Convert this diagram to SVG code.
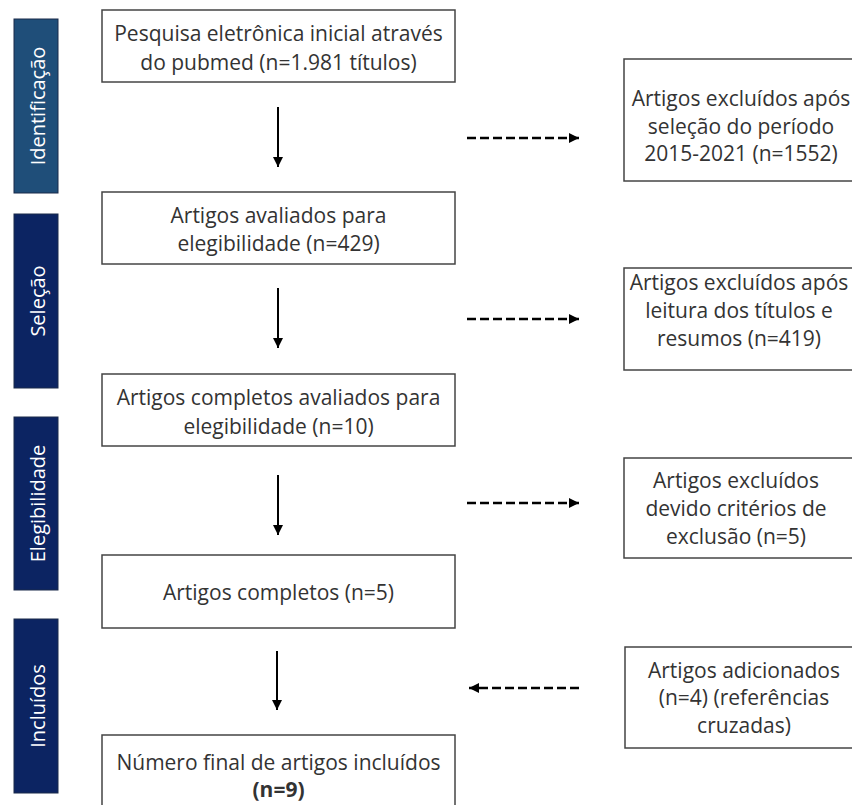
<svg xmlns="http://www.w3.org/2000/svg" width="852" height="805" viewBox="0 0 852 805">
  <defs>
    <marker id="ah" markerUnits="userSpaceOnUse" markerWidth="10" markerHeight="10" viewBox="0 0 10 10" refX="10" refY="5" orient="auto">
      <path d="M0,0 L10,5 L0,10 z" fill="#000"/>
    </marker>
  </defs>
  <style>
    .side { stroke: #1a2a4a; stroke-width: 1; }
    .sidetxt { font-family: "Open Sans", "Noto Sans", sans-serif; font-size: 20px; fill: #ffffff; text-anchor: middle; dominant-baseline: central; }
    .box { fill: #ffffff; stroke: #444444; stroke-width: 1.5; }
    .txt { font-family: "Open Sans", "Noto Sans", sans-serif; font-size: 21px; fill: #333333; text-anchor: middle; dominant-baseline: central; }
    .solid { stroke: #000; stroke-width: 2; fill: none; }
    .dash { stroke: #000; stroke-width: 2.5; fill: none; stroke-dasharray: 9 4; }
  </style>
  <rect width="852" height="805" fill="#ffffff"/>

  <g id="phase-identificacao">
    <rect class="side" x="14" y="19" width="44" height="174" fill="#1f4e79"/>
    <text class="sidetxt" transform="translate(37,106) rotate(-90)">Identificação</text>
  </g>
  <g id="phase-selecao">
    <rect class="side" x="14" y="214" width="44" height="174" fill="#0c2462"/>
    <text class="sidetxt" transform="translate(37,301) rotate(-90)">Seleção</text>
  </g>
  <g id="phase-elegibilidade">
    <rect class="side" x="14" y="417" width="44" height="173" fill="#0c2462"/>
    <text class="sidetxt" transform="translate(37,503.5) rotate(-90)">Elegibilidade</text>
  </g>
  <g id="phase-incluidos">
    <rect class="side" x="14" y="619" width="44" height="174" fill="#0c2462"/>
    <text class="sidetxt" transform="translate(37,706) rotate(-90)">Incluídos</text>
  </g>

  <g id="box-pesquisa">
    <rect class="box" x="102" y="10" width="353" height="72"/>
    <text class="txt" x="278.5" y="33">Pesquisa eletrônica inicial através</text>
    <text class="txt" x="278.5" y="62">do pubmed (n=1.981 títulos)</text>
  </g>
  <g id="box-avaliados">
    <rect class="box" x="102" y="192" width="353" height="72"/>
    <text class="txt" x="278.5" y="215">Artigos avaliados para</text>
    <text class="txt" x="278.5" y="243">elegibilidade (n=429)</text>
  </g>
  <g id="box-completos-avaliados">
    <rect class="box" x="102" y="374" width="353" height="72"/>
    <text class="txt" x="278.5" y="397">Artigos completos avaliados para</text>
    <text class="txt" x="278.5" y="426">elegibilidade (n=10)</text>
  </g>
  <g id="box-completos">
    <rect class="box" x="102" y="555" width="353" height="73"/>
    <text class="txt" x="278.5" y="592">Artigos completos (n=5)</text>
  </g>
  <g id="box-final">
    <rect class="box" x="102" y="735" width="353" height="80"/>
    <text class="txt" x="278.5" y="762">Número final de artigos incluídos</text>
    <text class="txt" x="278.5" y="789" font-weight="bold">(n=9)</text>
  </g>

  <g id="box-excl-periodo">
    <rect class="box" x="624" y="59" width="240" height="122"/>
    <text class="txt" x="741" y="98">Artigos excluídos após</text>
    <text class="txt" x="741" y="126">seleção do período</text>
    <text class="txt" x="741" y="153">2015-2021 (n=1552)</text>
  </g>
  <g id="box-excl-titulos">
    <rect class="box" x="624" y="268" width="240" height="102"/>
    <text class="txt" x="739" y="282">Artigos excluídos após</text>
    <text class="txt" x="739" y="310">leitura dos títulos e</text>
    <text class="txt" x="739" y="338">resumos (n=419)</text>
  </g>
  <g id="box-excl-criterios">
    <rect class="box" x="624" y="458" width="240" height="100"/>
    <text class="txt" x="736" y="480">Artigos excluídos</text>
    <text class="txt" x="736" y="508">devido critérios de</text>
    <text class="txt" x="736" y="536">exclusão (n=5)</text>
  </g>
  <g id="box-adicionados">
    <rect class="box" x="625" y="647" width="240" height="101"/>
    <text class="txt" x="744" y="670">Artigos adicionados</text>
    <text class="txt" x="744" y="697">(n=4) (referências</text>
    <text class="txt" x="744" y="725">cruzadas)</text>
  </g>

  <g id="connectors">
    <line class="solid" x1="278" y1="107" x2="278" y2="167" marker-end="url(#ah)"/>
    <line class="solid" x1="278" y1="288" x2="278" y2="348" marker-end="url(#ah)"/>
    <line class="solid" x1="278" y1="475" x2="278" y2="535" marker-end="url(#ah)"/>
    <line class="solid" x1="277" y1="651" x2="277" y2="710" marker-end="url(#ah)"/>
    <line class="dash" x1="467" y1="138" x2="579" y2="138" marker-end="url(#ah)"/>
    <line class="dash" x1="467" y1="319" x2="579" y2="319" marker-end="url(#ah)"/>
    <line class="dash" x1="467" y1="503" x2="579" y2="503" marker-end="url(#ah)"/>
    <line class="dash" x1="579" y1="688" x2="469" y2="688" marker-end="url(#ah)"/>
  </g>
</svg>
